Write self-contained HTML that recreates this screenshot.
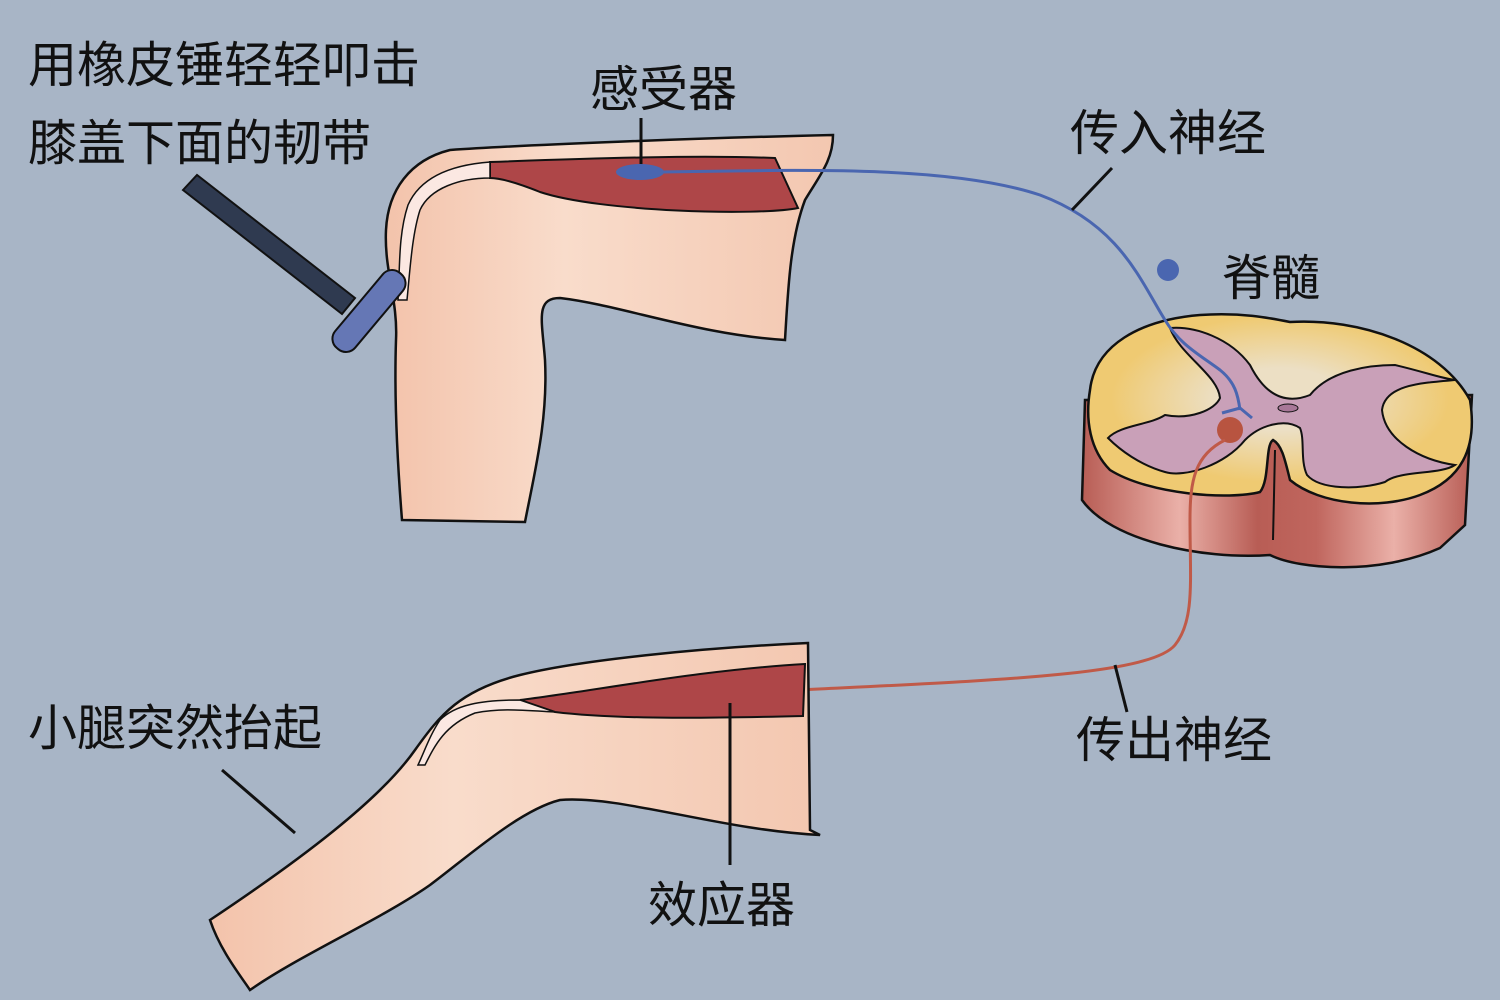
<!DOCTYPE html>
<html><head><meta charset="utf-8"><style>
html,body{margin:0;padding:0;background:#a8b5c6;}
svg{display:block}
text{font-family:"Liberation Sans","Noto Sans CJK SC",sans-serif;fill:#111;font-size:49px}
</style></head><body>
<svg width="1500" height="1000" viewBox="0 0 1500 1000" xmlns="http://www.w3.org/2000/svg">
<defs>
<linearGradient id="skin" x1="0" y1="0" x2="1" y2="0">
<stop offset="0" stop-color="#f3c3ab"/><stop offset="0.4" stop-color="#f9dccb"/><stop offset="1" stop-color="#f3c7b0"/></linearGradient>
<linearGradient id="side" x1="0" y1="0" x2="1" y2="0">
<stop offset="0" stop-color="#b85d55"/><stop offset="0.25" stop-color="#eab0a8"/><stop offset="0.45" stop-color="#b85d55"/><stop offset="0.6" stop-color="#c0665e"/><stop offset="0.8" stop-color="#eab0a8"/><stop offset="1" stop-color="#b85d55"/></linearGradient>
<radialGradient id="wm" cx="0.5" cy="0.45" r="0.55"><stop offset="0.3" stop-color="#ecdfc4"/><stop offset="0.8" stop-color="#efca72"/></radialGradient>
</defs>
<rect width="1500" height="1000" fill="#a8b5c6"/>
<!-- top leg -->
<path d="M833,135 C700,138 520,145 450,150 C410,160 388,190 386,230 C384,270 398,300 396,340 C394,400 398,470 402,520 L525,522 C535,470 548,420 545,360 C542,320 535,298 560,298 C620,305 700,335 785,340 C788,290 790,240 805,200 C820,175 833,160 833,135 Z" fill="url(#skin)" stroke="#111" stroke-width="2.5"/>
<path d="M490,162 C600,158 700,155 775,158 L798,208 C760,216 600,212 540,192 C515,182 500,178 490,178 Z" fill="#ae4648" stroke="#111" stroke-width="2"/>
<path d="M490,162 C450,165 420,178 408,205 C398,235 400,270 398,300 L407,300 C410,270 412,235 420,210 C430,188 460,178 490,178 Z" fill="#fbe8e2" stroke="#111" stroke-width="1.5"/>
<!-- hammer -->
<path d="M183,190 L197,175 L355,298 L342,314 Z" fill="#2f3a50" stroke="#111" stroke-width="2"/>
<rect x="356" y="262" width="26" height="98" rx="12" transform="rotate(40 369 311)" fill="#6577b5" stroke="#111" stroke-width="2"/>
<!-- receptor -->
<line x1="641" y1="118" x2="641" y2="172" stroke="#111" stroke-width="3"/>
<ellipse cx="640" cy="172" rx="24" ry="8" fill="#4a66b0"/>
<!-- spinal cord -->
<path d="M1085,400 L1082,500 C1110,540 1200,560 1270,555 C1300,570 1380,575 1440,548 L1465,525 L1472,395 Z" fill="url(#side)" stroke="#111" stroke-width="2.5"/>
<line x1="1275" y1="450" x2="1273" y2="540" stroke="#111" stroke-width="2"/>
<path d="M1090,390 C1095,345 1140,320 1200,315 C1240,312 1270,318 1290,322 C1360,318 1440,345 1470,400 C1478,450 1460,480 1420,495 C1380,510 1320,505 1290,480 C1285,460 1282,445 1273,440 C1265,445 1270,480 1260,492 C1230,500 1150,495 1110,470 C1090,450 1085,420 1090,390 Z" fill="url(#wm)" stroke="#111" stroke-width="2.5"/>
<path d="M1170,328 C1195,326 1230,338 1250,365 C1265,395 1285,405 1310,395 C1330,370 1370,365 1395,365 C1425,372 1440,378 1455,380 C1420,383 1385,385 1382,410 C1385,440 1420,460 1455,465 C1440,475 1400,470 1385,482 C1360,490 1320,490 1307,475 C1300,460 1305,440 1300,428 C1285,418 1260,425 1245,440 C1225,465 1185,478 1165,472 C1140,465 1120,450 1108,438 C1120,425 1150,425 1165,415 C1190,420 1215,410 1220,398 C1218,375 1180,355 1170,328 Z" fill="#c9a0b8" stroke="#111" stroke-width="2"/>
<ellipse cx="1288" cy="408" rx="10" ry="4" fill="#a87898" stroke="#111" stroke-width="1"/>
<path d="M660,172 C800,170 950,165 1040,195 C1120,225 1140,280 1165,320 C1180,345 1200,355 1220,370 C1235,382 1238,395 1240,410" fill="none" stroke="#4a66b0" stroke-width="3"/>
<path d="M1222,413 L1240,408 L1252,418" fill="none" stroke="#4a66b0" stroke-width="3"/>
<line x1="1072" y1="210" x2="1112" y2="168" stroke="#111" stroke-width="3"/>
<circle cx="1168" cy="270" r="11" fill="#4a66b0"/>
<circle cx="1230" cy="430" r="13" fill="#b85440"/>
<path d="M1225,440 C1195,455 1190,480 1190,520 C1190,580 1195,620 1175,645 C1150,675 1000,680 800,690 L738,690" fill="none" stroke="#c05a48" stroke-width="3"/>
<line x1="1115" y1="665" x2="1127" y2="712" stroke="#111" stroke-width="3"/>
<!-- bottom leg -->
<path d="M808,643 C700,648 580,660 520,675 C460,690 440,715 415,750 C380,800 300,860 210,920 C220,950 240,975 250,990 C300,955 380,920 430,885 C470,855 520,810 560,800 C620,795 720,830 820,835 L810,830 Z" fill="url(#skin)" stroke="#111" stroke-width="2.5"/>
<path d="M520,700 C600,690 700,670 805,664 L803,716 C720,718 620,720 555,712 Z" fill="#ae4648" stroke="#111" stroke-width="2"/>
<path d="M520,700 C480,700 455,705 440,720 C430,735 425,750 418,765 L425,765 C435,745 445,725 475,713 C500,708 520,710 555,712 Z" fill="#fbe8e2" stroke="#111" stroke-width="1.5"/>
<line x1="730" y1="703" x2="730" y2="865" stroke="#111" stroke-width="3"/>
<line x1="222" y1="770" x2="295" y2="833" stroke="#111" stroke-width="3"/>
<!-- labels -->
<text x="28" y="82">用橡皮锤轻轻叩击</text>
<text x="28" y="160">膝盖下面的韧带</text>
<text x="590" y="106">感受器</text>
<text x="1070" y="150">传入神经</text>
<text x="1222" y="295">脊髓</text>
<text x="1076" y="757">传出神经</text>
<text x="28" y="745">小腿突然抬起</text>
<text x="648" y="922">效应器</text>
</svg>
</body></html>
